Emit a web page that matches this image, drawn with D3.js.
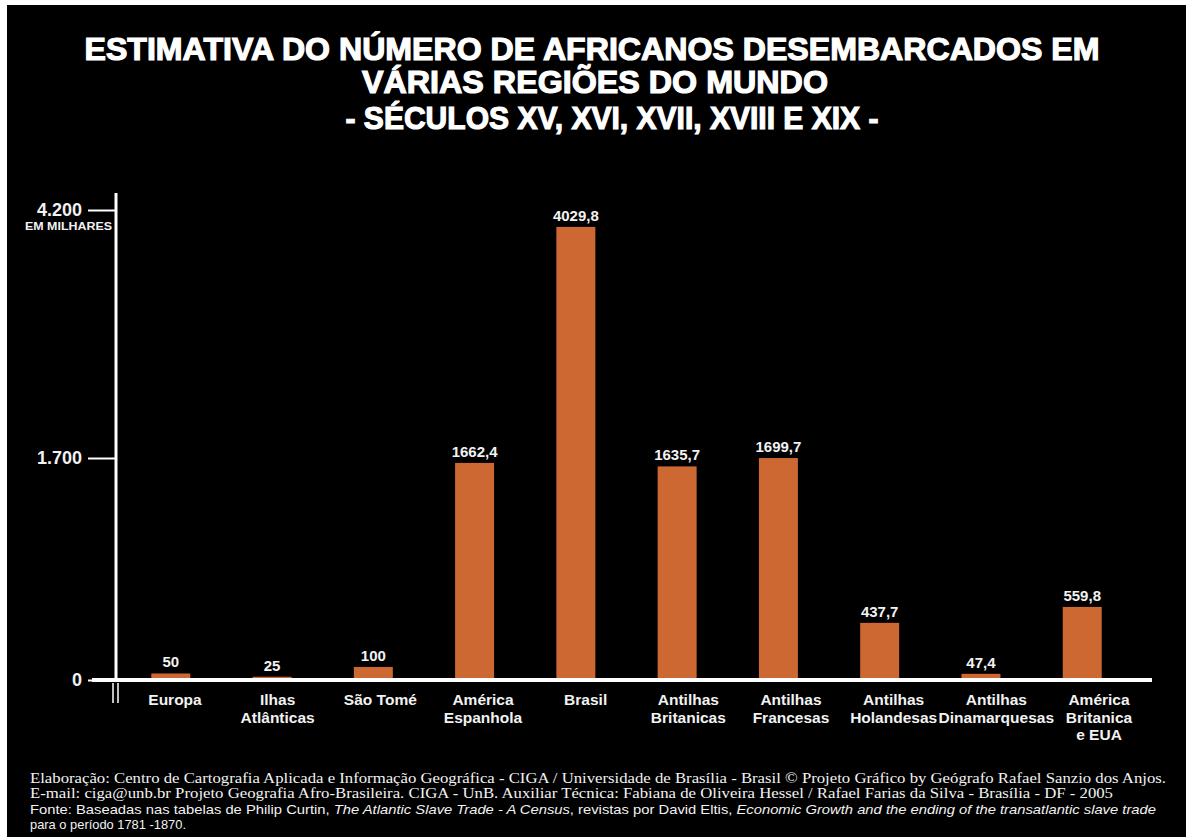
<html>
<head>
  <meta charset="UTF-8">
  <title>Africanos desembarcados</title>
  <script src="https://d3js.org/d3.v7.min.js"></script>
</head>
<style>
body { margin: 0; background: #fff; }
text { font-family: "Liberation Sans", Arial, sans-serif; fill: #f2f2f2; }
.bold { font-weight: bold; }
.serif { font-family: "Liberation Serif", "Times New Roman", serif; }
</style>
<body>
<script>

var width = 1186,
    height = 837;

// dados (milhares)
var regioes = ["Europa", "Ilhas Atlânticas", "São Tomé", "América Espanhola", "Brasil",
  "Antilhas Britanicas", "Antilhas Francesas", "Antilhas Holandesas",
  "Antilhas Dinamarquesas", "América Britanica e EUA"];
var rotulos = [["Europa"], ["Ilhas", "Atlânticas"], ["São Tomé"], ["América", "Espanhola"],
  ["Brasil"], ["Antilhas", "Britanicas"], ["Antilhas", "Francesas"], ["Antilhas", "Holandesas"],
  ["Antilhas", "Dinamarquesas"], ["América", "Britanica", "e EUA"]];
var valores = [50, 25, 100, 1662.4, 4029.8, 1635.7, 1699.7, 437.7, 47.4, 559.8];
var valorTexto = ["50", "25", "100", "1662,4", "4029,8", "1635,7", "1699,7", "437,7", "47,4", "559,8"];
var ticks = [0, 1700, 4200];

var titulo = ["ESTIMATIVA DO NÚMERO DE AFRICANOS DESEMBARCADOS EM",
  "VÁRIAS REGIÕES DO MUNDO",
  "- SÉCULOS XV, XVI, XVII, XVIII E XIX -"];

var svg = d3.select('body')
  .append('svg')
  .attr('width', width)
  .attr('height', height);

// fundo preto com margem branca
svg.append('rect')
  .attr('x', 7).attr('y', 5)
  .attr('width', width - 7).attr('height', height - 5)
  .attr('fill', '#000');

// titulo
var titleX = [592, 595, 612], titleY = [60, 93, 129], titleW = [1015, 466, 533];
svg.selectAll('text.titulo')
  .data(titulo)
  .enter()
  .append('text')
  .attr('class', 'titulo bold')
  .attr('x', function(d, i){ return titleX[i]; })
  .attr('y', function(d, i){ return titleY[i]; })
  .attr('text-anchor', 'middle')
  .attr('textLength', function(d, i){ return titleW[i]; })
  .attr('lengthAdjust', 'spacingAndGlyphs')
  .style('font-size', '32px')
  .style('fill', '#fff')
  .style('stroke', '#fff')
  .style('stroke-width', 1.2)
  .text(function(d){ return d; });

// escalas
var x = d3.scaleBand()
  .domain(regioes)
  .range([89, 1164])
  .padding(0.615);

// os rotulos das categorias ficam um pouco deslocados das barras
var xRotulo = d3.scalePoint()
  .domain(regioes)
  .range([175, 1099]);

var y = d3.scaleLinear()
  .domain([0, 1700, 4200])
  .range([680, 458, 210]);

var g = svg.append('g');

g.selectAll('rect.barra')
  .data(valores)
  .enter()
  .append('rect')
  .attr('class', 'barra')
  .attr('x', function(d, i){ return x(regioes[i]); })
  .attr('y', function(d){ return y(d); })
  .attr('width', x.bandwidth())
  .attr('height', function(d){ return y(0) - y(d); })
  .attr('fill', '#cd6833');

g.selectAll('text.valor')
  .data(valores)
  .enter()
  .append('text')
  .attr('class', 'valor bold')
  .attr('x', function(d, i){ return x(regioes[i]) + x.bandwidth() / 2; })
  .attr('y', function(d){ return y(d) - 6; })
  .attr('text-anchor', 'middle')
  .style('font-size', '15px')
  .text(function(d, i){ return valorTexto[i]; });

// eixo y
var pt = d3.formatLocale({decimal: ",", thousands: ".", grouping: [3], currency: ["", ""]});
var yAxis = d3.axisLeft(y)
  .tickValues(ticks)
  .tickSize(28)
  .tickPadding(6)
  .tickFormat(pt.format(","));

var ya = svg.append('g')
  .attr('transform', 'translate(116,0)')
  .call(yAxis);
ya.select('.domain').remove();
ya.selectAll('line').attr('stroke', '#fff').attr('stroke-width', 2);
ya.selectAll('text')
  .attr('class', 'bold')
  .style('font-size', '18px')
  .style('font-family', '"Liberation Sans", Arial, sans-serif')
  .attr('fill', '#f2f2f2');

svg.append('line')
  .attr('x1', 116).attr('x2', 116)
  .attr('y1', 193).attr('y2', y(0))
  .attr('stroke', '#fff').attr('stroke-width', 3);

svg.append('text')
  .attr('class', 'bold')
  .attr('x', 112).attr('y', 230)
  .attr('text-anchor', 'end')
  .attr('textLength', 87).attr('lengthAdjust', 'spacingAndGlyphs')
  .style('font-size', '11px')
  .text('EM MILHARES');

// eixo x
svg.append('line')
  .attr('x1', 92).attr('x2', 1152)
  .attr('y1', y(0)).attr('y2', y(0))
  .attr('stroke', '#fff').attr('stroke-width', 4);

// quebra do eixo
[113, 118].forEach(function(bx){
  svg.append('line')
    .attr('x1', bx).attr('x2', bx)
    .attr('y1', 683).attr('y2', 703)
    .attr('stroke', '#fff').attr('stroke-width', 1.5);
});

var cat = svg.selectAll('text.categoria')
  .data(rotulos)
  .enter()
  .append('text')
  .attr('class', 'categoria bold')
  .attr('text-anchor', 'middle')
  .style('font-size', '15.5px');

cat.selectAll('tspan')
  .data(function(d, i){ return d.map(function(s){ return {s: s, i: i}; }); })
  .enter()
  .append('tspan')
  .attr('x', function(d){ return xRotulo(regioes[d.i]); })
  .attr('y', function(d, j){ return 705 + j * 17.5; })
  .text(function(d){ return d.s; });

// rodape
svg.append('text')
  .attr('class', 'serif')
  .attr('x', 30).attr('y', 783)
  .attr('textLength', 1136).attr('lengthAdjust', 'spacingAndGlyphs')
  .style('font-size', '14px')
  .text('Elaboração: Centro de Cartografia Aplicada e Informação Geográfica - CIGA / Universidade de Brasília - Brasil © Projeto Gráfico by Geógrafo Rafael Sanzio dos  Anjos.');

svg.append('text')
  .attr('class', 'serif')
  .attr('x', 30).attr('y', 798)
  .attr('textLength', 1083).attr('lengthAdjust', 'spacingAndGlyphs')
  .style('font-size', '14px')
  .text('E-mail: ciga@unb.br Projeto Geografia Afro-Brasileira. CIGA - UnB. Auxiliar Técnica: Fabiana de Oliveira Hessel / Rafael Farias da Silva - Brasília - DF  - 2005');

var f3 = svg.append('text')
  .attr('x', 30).attr('y', 814)
  .attr('textLength', 1126).attr('lengthAdjust', 'spacingAndGlyphs')
  .style('font-size', '13.5px');
f3.append('tspan').text('Fonte: Baseadas nas tabelas de Philip Curtin, ');
f3.append('tspan').style('font-style', 'italic').text('The Atlantic Slave Trade - A Census');
f3.append('tspan').text(', revistas por David Eltis, ');
f3.append('tspan').style('font-style', 'italic').text('Economic Growth and the ending of the transatlantic slave trade');

svg.append('text')
  .attr('x', 30).attr('y', 829)
  .attr('textLength', 156).attr('lengthAdjust', 'spacingAndGlyphs')
  .style('font-size', '13.5px')
  .text('para o período 1781  -1870.');

</script>
</body>
</html>
